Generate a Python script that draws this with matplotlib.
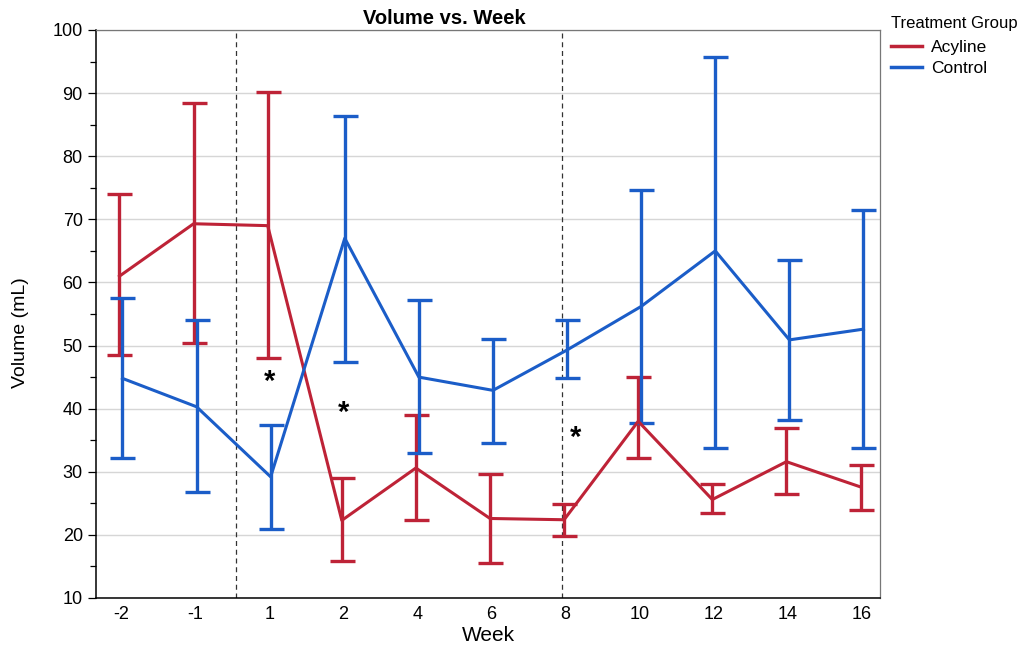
import matplotlib
matplotlib.use("Agg")
import matplotlib.pyplot as plt
import numpy as np
from matplotlib.ticker import MultipleLocator


WEEKS = ["-2", "-1", "1", "2", "4", "6", "8", "10", "12", "14", "16"]

ACYLINE_MEAN = [61.0, 69.3, 69.0, 22.3, 30.6, 22.6, 22.4, 38.0, 25.6, 31.6, 27.6]
ACYLINE_UPPER = [74.0, 88.4, 90.2, 29.0, 39.0, 29.7, 24.9, 45.0, 28.0, 37.0, 31.0]
ACYLINE_LOWER = [48.5, 50.4, 48.0, 15.8, 22.3, 15.6, 19.9, 32.2, 23.4, 26.4, 24.0]

CONTROL_MEAN = [44.8, 40.3, 29.2, 67.0, 45.0, 42.9, 49.3, 56.2, 65.0, 50.9, 52.6]
CONTROL_UPPER = [57.6, 54.0, 37.4, 86.4, 57.2, 51.0, 54.0, 74.6, 95.8, 63.6, 71.5]
CONTROL_LOWER = [32.2, 26.8, 21.0, 47.4, 33.0, 34.6, 44.8, 37.8, 33.8, 38.2, 33.8]

# significance markers (category position, volume)
STARS = [(2, 44.2), (3, 39.4), (6.14, 35.4)]
# treatment phase boundaries, in category positions
PHASES = [1.55, 5.95]

RED = "#BE2337"
BLUE = "#1B5DC8"
FONT = ["Liberation Sans", "DejaVu Sans"]


def draw_series(ax, x, mean, lower, upper, color, label):
    mean = np.array(mean)
    err = np.vstack([mean - np.array(lower), np.array(upper) - mean])
    ax.errorbar(x, mean, yerr=err, color=color, linewidth=2.2, elinewidth=2.4,
                capsize=9, capthick=2.4, label=label, zorder=3)


def main():
    plt.rcParams["font.family"] = FONT
    fig = plt.figure(figsize=(10.34, 6.46), dpi=100)
    ax = fig.add_axes([96 / 1034, 1 - 598 / 646, 784 / 1034, 568 / 646])

    x = np.arange(len(WEEKS))
    draw_series(ax, x - 0.02, ACYLINE_MEAN, ACYLINE_LOWER, ACYLINE_UPPER, RED, "Acyline")
    draw_series(ax, x + 0.02, CONTROL_MEAN, CONTROL_LOWER, CONTROL_UPPER, BLUE, "Control")

    for px in PHASES:
        ax.axvline(px, color="#333333", linestyle=(0, (4, 3)), linewidth=0.9, zorder=2)
    for sx, sy in STARS:
        ax.text(sx, sy, "*", ha="center", va="center", fontsize=21,
                fontweight="bold", color="black")

    ax.set_xlim(-0.337, 10.243)
    ax.set_ylim(10, 100)
    ax.set_xticks(x, WEEKS)
    ax.yaxis.set_major_locator(MultipleLocator(10))
    ax.yaxis.set_minor_locator(MultipleLocator(5))
    ax.tick_params(axis="x", length=0, labelsize=13, pad=6)
    ax.tick_params(axis="y", which="major", length=6, labelsize=13, width=0.9)
    ax.tick_params(axis="y", which="minor", length=4, width=0.9)
    ax.grid(axis="y", color="#d6d6d6", linewidth=1.0, zorder=0)
    ax.set_axisbelow(True)

    for side in ["left", "bottom"]:
        ax.spines[side].set_color("black")
        ax.spines[side].set_linewidth(1.1)
    for side in ["top", "right"]:
        ax.spines[side].set_color("#777777")
        ax.spines[side].set_linewidth(0.9)

    ax.set_xlabel("Week", fontsize=15, labelpad=2)
    ax.set_ylabel("Volume (mL)", fontsize=14)
    ax.yaxis.set_label_coords(-0.085, 0.467)

    fig.text(444 / 1034, 1 - 19 / 646, "Volume vs. Week", ha="center", va="center",
             fontsize=14.5, fontweight="bold")

    handles = [plt.Line2D([], [], color=RED, linewidth=2.5),
               plt.Line2D([], [], color=BLUE, linewidth=2.5)]
    leg = fig.legend(handles, ["Acyline", "Control"], loc="upper left",
                     bbox_to_anchor=(879 / 1034, 1 - 4 / 646), frameon=False,
                     title="Treatment Group", fontsize=12.5, title_fontsize=12,
                     handlelength=1.8, handletextpad=0.5, labelspacing=0.35,
                     borderpad=0.2)
    leg._legend_box.align = "left"
    leg._legend_box.sep = 6

    fig.savefig("out.png", dpi=100)


if __name__ == "__main__":
    main()
